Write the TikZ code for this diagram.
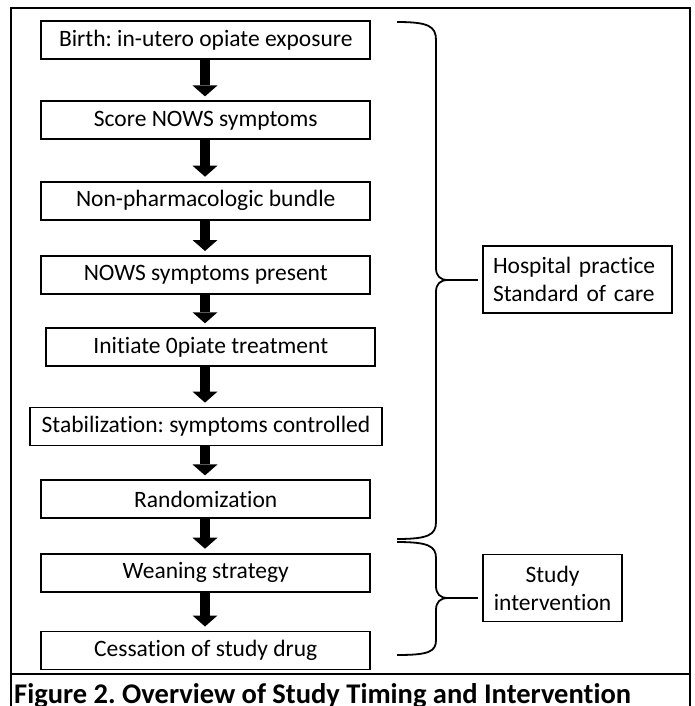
\documentclass[tikz,border=0pt]{standalone}
\usepackage{fontspec}
\setmainfont{Carlito}[Ligatures=NoCommon]
\usetikzlibrary{calc}
\usetikzlibrary{positioning}
\usetikzlibrary{arrows.meta}
\frenchspacing

\begin{document}
\begin{tikzpicture}[x=1pt, y=-1pt, node distance=40pt]
            % Set primary nodes
            \tikzset{
                stepNode/.style={
                        draw,
                        rectangle,
                        line width=1.8pt,
                        minimum height=38pt,
                        minimum width=329pt,
                        inner sep=0pt,
                        font=\fontsize{23.5}{28}\selectfont
                    }
            }
            \tikzset{
                groupNode/.style={
                        draw,
                        rectangle,
                        line width=1.8pt,
                        inner xsep=10pt,
                        inner ysep=0pt,
                        minimum height=67pt,
                        font=\fontsize{23.5}{28}\selectfont
                    }
            }
            \tikzset{
                braceLine/.style={
                        line width=1.8pt
                    }
            }
            % Configure arrows
            \tikzset{flowArrow/.style={line width=10pt, -{Triangle[width=25pt,length=11pt,line width=0pt]}, shorten >=4pt}}
            \useasboundingbox (0,0) rectangle (694,706);
            % Frame and caption rule
            \draw[line width=1.8pt] (11,8) rectangle (690,730);
            \draw[line width=1.8pt] (11,674) -- (690,674);
            % Placing nodes
            \node[stepNode](birth) at (205.75,40){Birth: in-utero opiate exposure};
            \node[stepNode, below = 40.5pt of birth](score){Score NOWS symptoms};
            \node[stepNode, below = 40.5pt of score](bundle){Non-pharmacologic bundle};
            \node[stepNode, below = 34.5pt of bundle](present){NOWS symptoms present};
            \node[stepNode, below = 32.5pt of present, xshift = 5pt](initiate){Initiate 0piate treatment};
            \node[stepNode, below = 39.5pt of initiate, xshift = -4.75pt, minimum width=352pt](stable){Stabilization: symptoms controlled};
            \node[stepNode, below = 33pt of stable, xshift = -0.25pt](random){Randomization};
            \node[stepNode, below = 33.5pt of random](wean){Weaning strategy};
            \node[stepNode, below = 38pt of wean](cessation){Cessation of study drug};
            \node[groupNode, text width=169pt, align=left](hospital) at (577.5,279.5){Hospital practice\\Standard of care};
            \node[groupNode, minimum width=139pt, align=center](study) at (552.5,588){Study\\intervention};
            \node[anchor=base west, inner sep=0pt, font=\bfseries\fontsize{28.5}{32}\selectfont](caption) at (14,703){Figure 2. Overview of Study Timing and Intervention};
            % Braces
            \coordinate (hospTip) at (448,280);
            \coordinate (studyTip) at (448,598);
            \draw[braceLine] (397,22) .. controls (428,22) and (436,26) .. (436,40)
                -- (436,268) .. controls (436,276) and (440,280) .. (hospTip)
                .. controls (440,280) and (436,284) .. (436,292)
                -- (436,522) .. controls (436,535) and (428,539) .. (397,539);
            \draw[braceLine] (397,542) .. controls (428,542) and (436,546) .. (436,558)
                -- (436,586) .. controls (436,594) and (440,598) .. (studyTip)
                .. controls (440,598) and (436,602) .. (436,610)
                -- (436,640) .. controls (436,652) and (428,655) .. (397,655);
            % Draw arrows
            \coordinate (spine) at (205,0);
            \draw[flowArrow](birth.south -| spine) -- (score.north -| spine);
            \draw[flowArrow](score.south -| spine) -- (bundle.north -| spine);
            \draw[flowArrow](bundle.south -| spine) -- (present.north -| spine);
            \draw[flowArrow](present.south -| spine) -- (initiate.north -| spine);
            \draw[flowArrow](initiate.south -| spine) -- (stable.north -| spine);
            \draw[flowArrow](stable.south -| spine) -- (random.north -| spine);
            \draw[flowArrow](random.south -| spine) -- (wean.north -| spine);
            \draw[flowArrow](wean.south -| spine) -- (cessation.north -| spine);
            \draw[braceLine, shorten >=4pt](hospTip) -- (hospTip -| hospital.west);
            \draw[braceLine, shorten >=4pt](studyTip) -- (studyTip -| study.west);
        \end{tikzpicture}
\end{document}
